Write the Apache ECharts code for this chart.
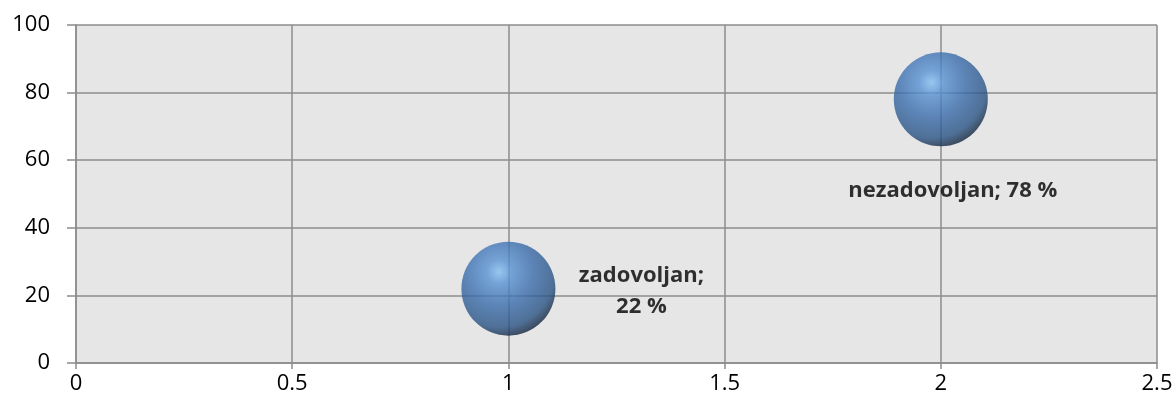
<!DOCTYPE html>
<html>
<head>
<meta charset="utf-8" />
<script src="https://cdn.jsdelivr.net/npm/echarts@6/dist/echarts.min.js"></script>
<title>chart</title>
</head>
<body style="margin:0">
<div id="main" style="width:1176px; height:407px"></div>
<script type="text/javascript">
var names = ['zadovoljan', 'nezadovoljan'];
var xVals = [1, 2];
var yVals = [22, 78];
var labels = ['zadovoljan;\n22 %', 'nezadovoljan; 78 %'];
var xTicks = [0, 0.5, 1, 1.5, 2, 2.5];
var yTicks = [0, 20, 40, 60, 80, 100];

// shiny blue ball
var ball = new echarts.graphic.RadialGradient(0.4, 0.32, 0.72, [
    {offset: 0, color: '#86bff2'},
    {offset: 0.18, color: '#5791d3'},
    {offset: 0.5, color: '#3a6cab'},
    {offset: 0.82, color: '#295384'},
    {offset: 1, color: '#0e1c30'}
]);

var myChart = echarts.init(document.getElementById('main'));
myChart.setOption({
    animation: false,
    grid: {left: 76, right: 19, top: 25, bottom: 44, show: true, backgroundColor: '#e6e6e6', borderWidth: 0},
    xAxis: {
        type: 'value', min: xTicks[0], max: xTicks[xTicks.length - 1], interval: 0.5,
        axisLine: {show: true, onZero: false, lineStyle: {color: '#8c8c8c', width: 1.5}},
        axisTick: {show: true, length: 6, lineStyle: {color: '#8c8c8c', width: 1.5}},
        splitLine: {show: true, lineStyle: {color: '#8c8c8c', width: 1.5}},
        axisLabel: {color: '#000', fontSize: 22, fontFamily: 'Open Sans', margin: 10}
    },
    yAxis: {
        type: 'value', min: yTicks[0], max: yTicks[yTicks.length - 1], interval: 20,
        axisLine: {show: true, lineStyle: {color: '#8c8c8c', width: 1.5}},
        axisTick: {show: true, length: 9, lineStyle: {color: '#8c8c8c', width: 1.5}},
        splitLine: {show: true, lineStyle: {color: '#8c8c8c', width: 1.5}},
        axisLabel: {color: '#000', fontSize: 22, fontFamily: 'Open Sans', margin: 26}
    },
    series: [{
        type: 'scatter',
        symbolSize: 94,
        itemStyle: {color: ball},
        data: [
            {name: names[0], value: [xVals[0], yVals[0]],
             label: {show: true, color: '#000', formatter: labels[0], position: 'inside', offset: [133, 3], align: 'center', lineHeight: 31}},
            {name: names[1], value: [xVals[1], yVals[1]],
             label: {show: true, color: '#000', formatter: labels[1], position: 'inside', offset: [12, 91]}}
        ],
        label: {color: '#000', fontSize: 22, fontWeight: 'bold', fontFamily: 'Open Sans', textBorderWidth: 0}
    }]
});
</script>
</body>
</html>
